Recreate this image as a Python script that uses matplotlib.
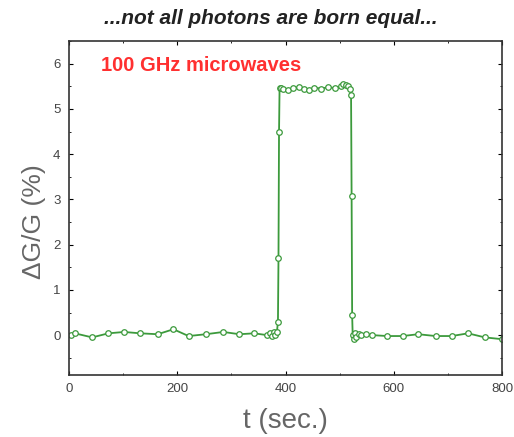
import numpy as np
import matplotlib
matplotlib.use('Agg')
import matplotlib.pyplot as plt
from matplotlib.ticker import MultipleLocator

# Time (sec.) and dG/G (%)
t_pre = [3, 11, 43, 73, 102, 132, 164, 193, 221, 253, 285, 315, 342,
         366, 371, 375, 378, 381, 384, 386]
g_pre = [0.0, 0.04, -0.05, 0.04, 0.07, 0.04, 0.02, 0.13, -0.02, 0.02, 0.07,
         0.02, 0.04, 0.0, 0.05, -0.02, 0.08, 0.0, 0.06, 0.29]

t_on = [387, 388, 389, 391, 396, 404, 414, 424, 434, 444, 453, 466, 479,
        492, 503, 507, 512, 516, 519]
g_on = [1.7, 4.48, 5.47, 5.46, 5.45, 5.42, 5.46, 5.48, 5.44, 5.42, 5.47,
        5.45, 5.48, 5.46, 5.5, 5.55, 5.52, 5.5, 5.45]

t_off = [521, 522, 523, 524, 526, 528, 531, 535, 540, 548, 560,
         588, 616, 645, 677, 707, 737, 768, 800]
g_off = [5.3, 3.07, 0.44, 0.0, -0.08, 0.05, -0.04, 0.03, 0.0, 0.02, 0.0,
         -0.02, -0.02, 0.02, -0.02, -0.02, 0.04, -0.05, -0.09]

t = np.array(t_pre + t_on + t_off)
g = np.array(g_pre + g_on + g_off)

plt.rcParams['font.family'] = ['Liberation Sans', 'DejaVu Sans']

fig = plt.figure(figsize=(5.14, 4.37), dpi=100)
ax = fig.add_axes([0.134, 0.142, 0.843, 0.764])

ax.plot(t, g, '-', color='#3c9a3c', linewidth=1.3,
        marker='o', markersize=4, markerfacecolor='white',
        markeredgecolor='#3c9a3c', markeredgewidth=0.9)

ax.set_xlim(0, 800)
ax.set_ylim(-0.88, 6.5)
ax.xaxis.set_major_locator(MultipleLocator(200))
ax.xaxis.set_minor_locator(MultipleLocator(100))
ax.yaxis.set_major_locator(MultipleLocator(1))
ax.yaxis.set_minor_locator(MultipleLocator(0.5))
ax.tick_params(which='both', direction='in', top=True, right=True,
               labelsize=9.5, labelcolor='#444444')
ax.tick_params(which='major', length=3, pad=6)
ax.tick_params(which='minor', length=1.5)
for s in ax.spines.values():
    s.set_linewidth(1.2)
    s.set_color('#333333')

ax.set_xlabel('t (sec.)', fontsize=20, color='#666666', labelpad=9)
ax.set_ylabel('ΔG/G (%)', fontsize=19, color='#666666')
ax.yaxis.set_label_coords(-0.052, 0.46)

ax.text(60, 5.96, '100 GHz microwaves', color='#ff3030', fontsize=14.5,
        fontweight='bold', va='center', ha='left')

fig.text(0.527, 0.957, '...not all photons are born equal...', ha='center',
         va='center', fontsize=15, fontweight='bold', fontstyle='italic',
         color='#222222')

plt.savefig('out.png', dpi=100)
